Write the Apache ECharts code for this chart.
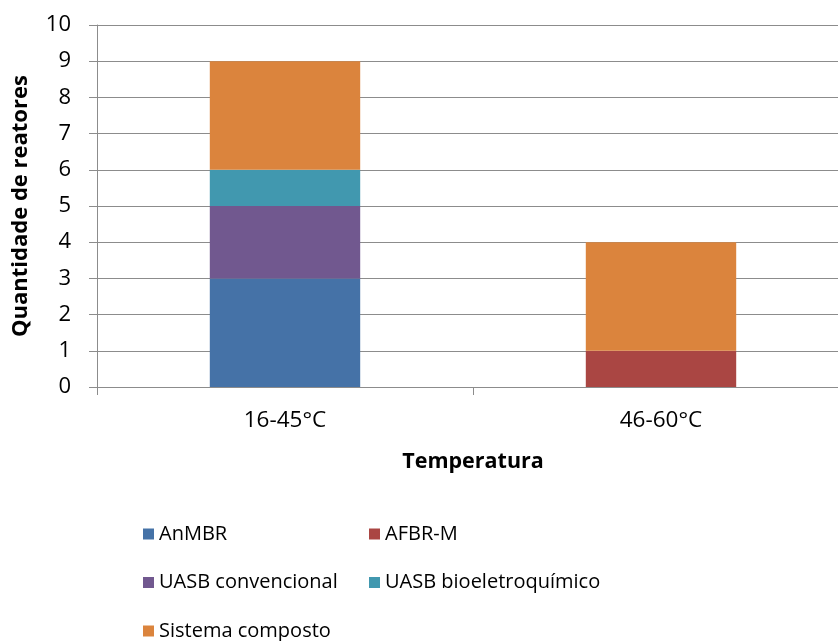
<!DOCTYPE html>
<html>
<head>
<meta charset="utf-8">
<title>Quantidade de reatores por temperatura</title>
<script src="https://cdn.jsdelivr.net/npm/echarts@6/dist/echarts.min.js"></script>
<style>
  html, body { margin: 0; padding: 0; background: #ffffff; overflow: hidden; }
  /* the drawing surface is a little wider than the window so the plot area
     can run past the right edge, as the gridlines do */
  #chart { width: 860px; height: 641px; }
</style>
</head>
<body>
<div id="chart"></div>
<script>
// Faixas de temperatura e número de reatores por configuração
const categories = ['16-45°C', '46-60°C'];
const anmbr = [3, 0];
const afbrM = [0, 1];
const uasbConvencional = [2, 0];
const uasbBioeletroquimico = [1, 0];
const sistemaComposto = [3, 3];
const yTicks = [0, 1, 2, 3, 4, 5, 6, 7, 8, 9, 10];

const FONT = '"Open Sans", "Noto Sans", sans-serif';
const GRAY = '#8c8c8c';

const seriesDefs = [
  { name: 'AnMBR', data: anmbr, color: '#4572A7' },
  { name: 'AFBR-M', data: afbrM, color: '#AA4643' },
  { name: 'UASB convencional', data: uasbConvencional, color: '#71588F' },
  { name: 'UASB bioeletroquímico', data: uasbBioeletroquimico, color: '#4198AF' },
  { name: 'Sistema composto', data: sistemaComposto, color: '#DB843D' }
];

const legendText = { fontFamily: FONT, fontSize: 20, color: '#000', lineHeight: 20 };
const legendBase = {
  orient: 'vertical',
  top: 524,
  padding: 0,
  itemWidth: 11,
  itemHeight: 11,
  itemGap: 28.5,
  icon: 'rect',
  textStyle: legendText
};

const chart = echarts.init(document.getElementById('chart'), null, { renderer: 'canvas' });
chart.setOption({
  animation: false,
  backgroundColor: '#ffffff',
  grid: { left: 97, top: 25, width: 752, height: 362, containLabel: false },
  xAxis: {
    type: 'category',
    data: categories,
    name: 'Temperatura',
    nameLocation: 'middle',
    nameGap: 64,
    nameTextStyle: { fontFamily: FONT, fontSize: 21.5, fontWeight: 'bold', color: '#000' },
    axisLine: { lineStyle: { color: GRAY, width: 1 } },
    axisTick: { show: true, length: 8, alignWithLabel: false, lineStyle: { color: GRAY } },
    axisLabel: { fontFamily: FONT, fontSize: 22.5, color: '#000', margin: 22 },
    splitLine: { show: false }
  },
  yAxis: {
    type: 'value',
    min: yTicks[0],
    max: yTicks[yTicks.length - 1],
    interval: 1,
    name: 'Quantidade de reatores',
    nameLocation: 'middle',
    nameGap: 65,
    nameTextStyle: { fontFamily: FONT, fontSize: 22, fontWeight: 'bold', color: '#000' },
    axisLine: { show: true, lineStyle: { color: GRAY, width: 1 } },
    axisTick: { show: true, length: 8, lineStyle: { color: GRAY } },
    axisLabel: { fontFamily: FONT, fontSize: 22, color: '#000', margin: 26 },
    splitLine: { show: true, lineStyle: { color: GRAY, width: 1 } }
  },
  legend: [
    Object.assign({}, legendBase, {
      left: 143,
      data: ['AnMBR', 'UASB convencional', 'Sistema composto']
    }),
    Object.assign({}, legendBase, {
      left: 369,
      data: ['AFBR-M', 'UASB bioeletroquímico']
    })
  ],
  series: seriesDefs.map(s => ({
    name: s.name,
    type: 'bar',
    stack: 'total',
    barWidth: '40%',
    data: s.data,
    itemStyle: { color: s.color },
    emphasis: { disabled: true }
  }))
});
</script>
</body>
</html>
